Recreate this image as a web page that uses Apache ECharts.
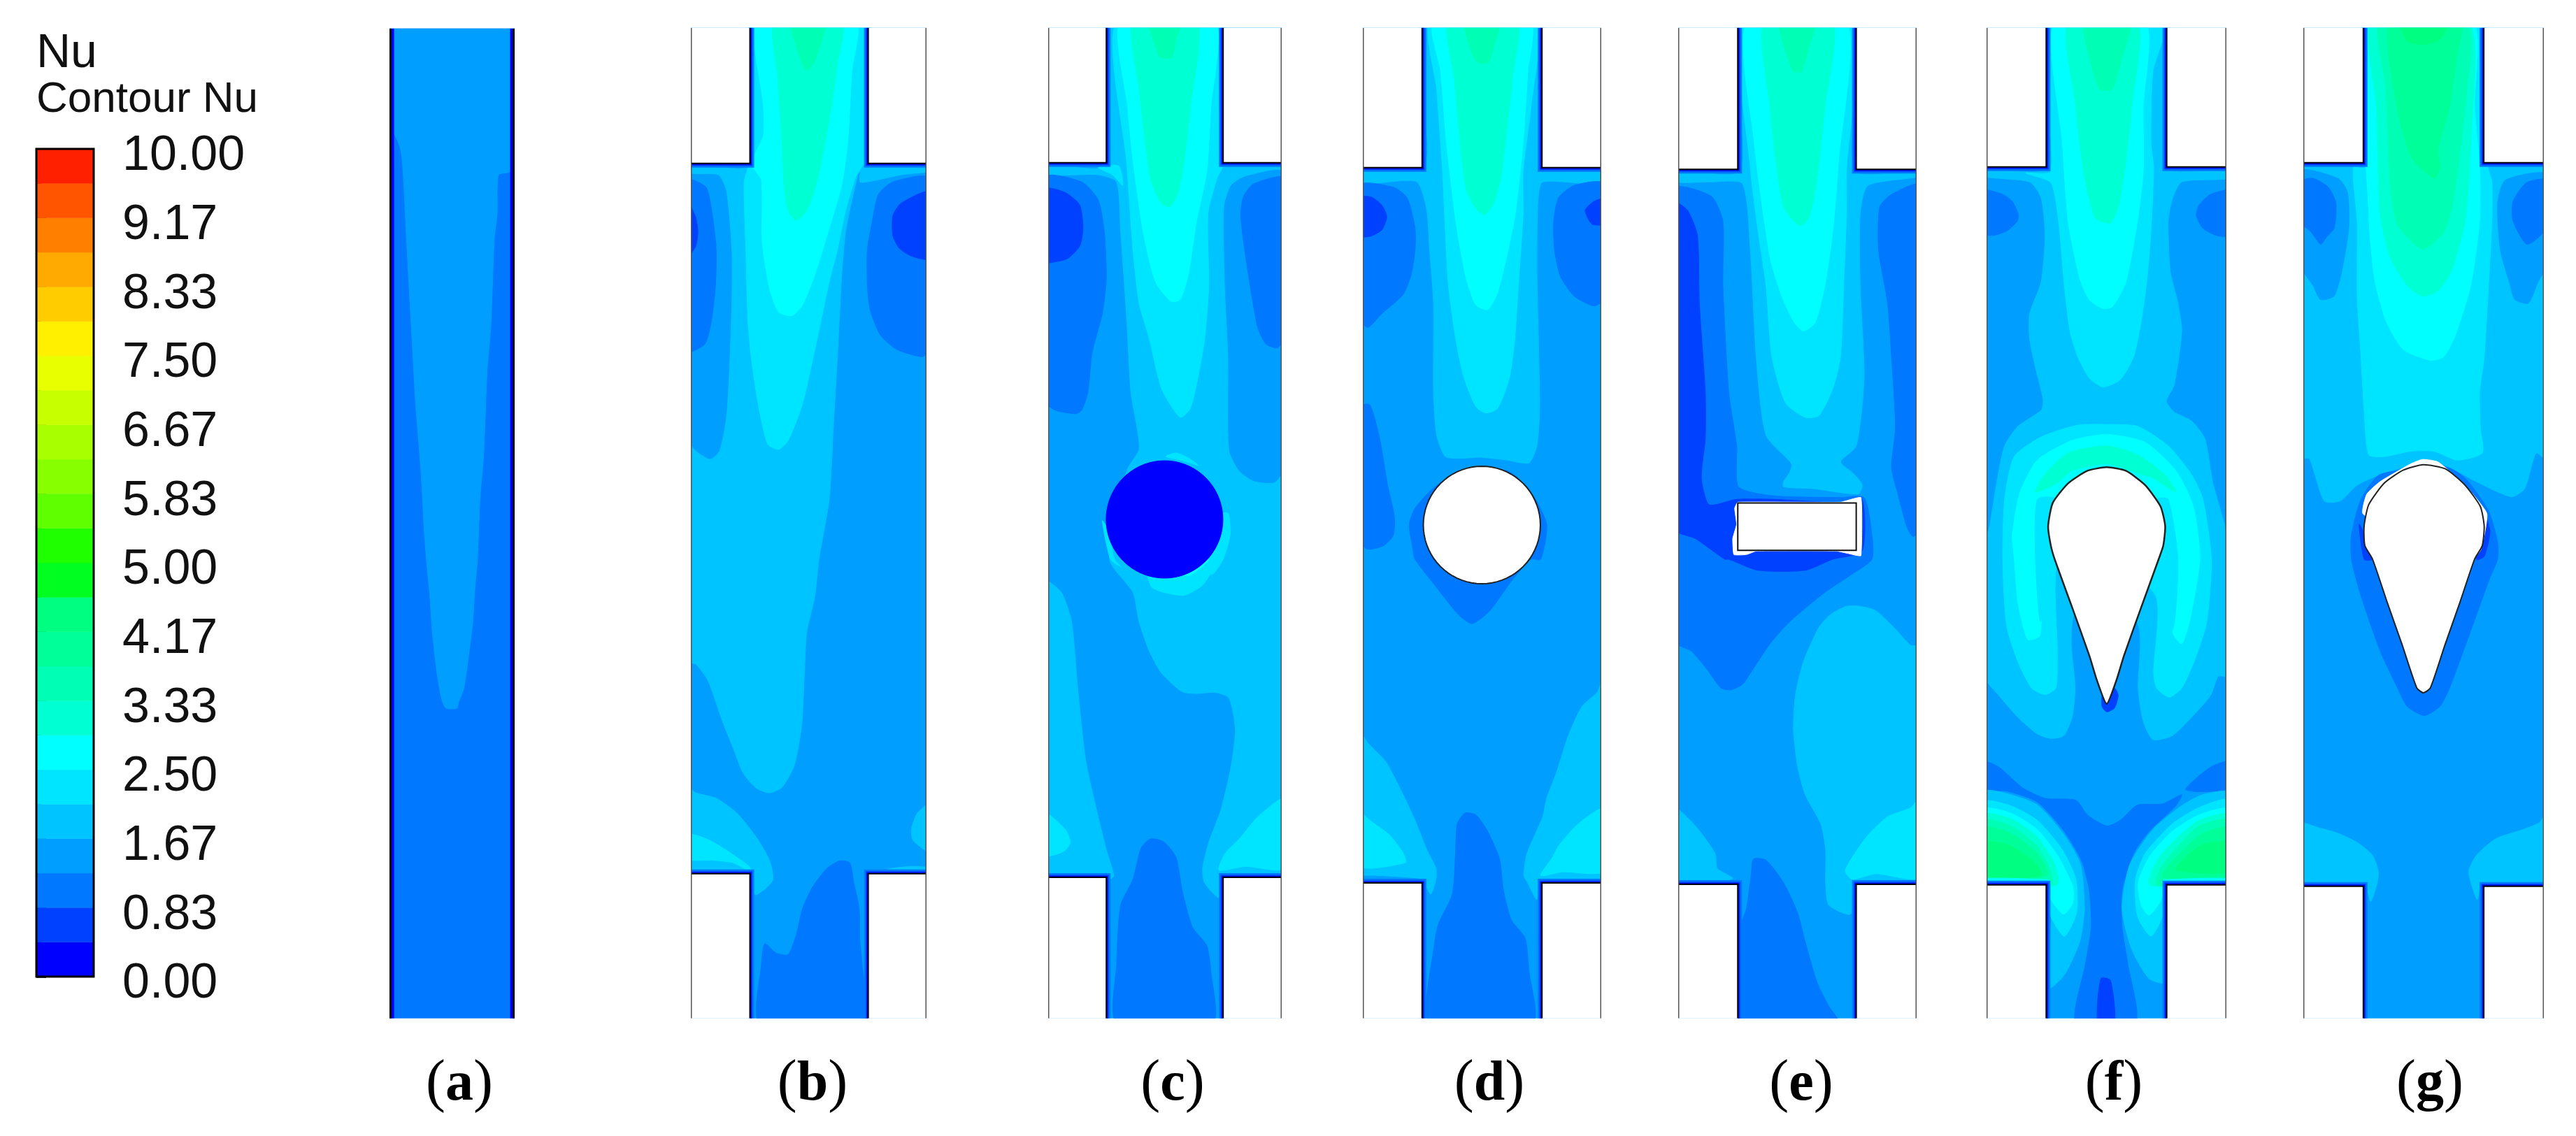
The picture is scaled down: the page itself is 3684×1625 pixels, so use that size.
<!DOCTYPE html>
<html><head><meta charset="utf-8">
<style>html,body{margin:0;padding:0;background:#fff}#c{width:3684px;height:1625px}</style>
<script src="https://cdn.jsdelivr.net/npm/echarts@6/dist/echarts.min.js"></script>
</head><body><div id="c"></div>
<script>
// Colour-bar tick labels and the 24 contour bands
const nuTickLabels=['0.00','0.83','1.67','2.50','3.33','4.17','5.00','5.83','6.67','7.50','8.33','9.17','10.00'];
const bandColors=['#0000ff','#0040ff','#0078ff','#009fff','#00c4ff','#00e5ff','#00ffff','#00ffd2','#00ffb4','#00ff99','#00ff80','#00ff20','#20ff00','#60ff00','#88ff00','#a8ff00','#c8ff00','#e8ff00','#fff000','#ffcc00','#ffaa00','#ff8000','#ff5500','#ff2000'];
const panelLabels=['a','b','c','d','e','f','g'];

// Contour regions: [band, [x,y, x,y, ...]].
// y below 2000 = reading in the upper half of the picture, y of 2000+ = reading in the lower half.
const contoursA=[
[3,[1098,70,1436,70,1432,290,1430,480,1397,490,1393,600,1385,670,1380,800,1375,920,1365,1040,1360,1160,1355,1280,1345,1400,1338,2000,1330,2090,1325,2170,1315,2250,1300,2350,1285,2390,1280,2405,1250,2405,1238,2380,1225,2310,1212,2200,1205,2100,1197,2020,1190,1500,1180,1320,1165,1130,1155,950,1145,770,1138,640,1130,480,1122,415,1105,375,1098,375]]
];
const contoursB=[
[4,[197,60,197,462,48,462,48,485,115,490,135,535,148,700,148,850,142,1040,135,1170,118,1265,95,1288,60,1265,40,1240,40,2280,60,2285,90,2330,125,2440,150,2510,175,2580,205,2620,238,2635,270,2620,300,2560,318,2450,325,2300,330,2200,350,2100,360,2000,385,1400,395,1200,405,1000,415,780,425,650,455,490,470,462,478,300,478,60]],
[4,[470,462,630,462,630,480,560,490,500,505,460,510]],
[2,[630,500,540,510,505,545,490,620,478,700,478,800,485,870,510,940,550,980,610,1000,630,985]],
[2,[40,505,85,525,100,600,110,700,108,800,98,900,82,965,40,985]],
[1,[630,538,560,570,540,605,540,660,555,695,585,718,630,725]],
[1,[40,565,60,610,65,650,60,690,40,720]],
[5,[197,60,197,440,190,462,178,510,182,700,187,900,195,1000,210,1120,235,1245,262,1260,285,1235,318,1140,335,1060,350,980,365,900,385,790,405,700,425,590,450,495,468,462,478,450,478,60]],
[6,[210,60,225,300,225,380,205,430,198,465,220,505,222,680,240,810,262,875,295,885,320,855,350,770,385,640,415,520,430,400,440,200,450,60]],
[7,[252,60,260,220,270,400,275,520,285,590,305,618,330,590,350,530,370,430,390,300,405,180,415,60]],
[8,[292,60,305,130,320,180,332,198,350,170,365,120,375,60]],
[4,[40,2620,60,2635,110,2650,160,2690,210,2760,240,2820,248,2870,230,2895,205,2912,197,2870,192,2860,40,2860]],
[5,[40,2748,90,2762,140,2795,190,2835,195,2850,150,2825,100,2818,40,2815]],
[4,[630,2665,600,2690,585,2735,590,2765,630,2795]],
[4,[540,2840,590,2835,630,2840,630,2860,480,2860]],
[2,[410,2820,435,2825,445,2880,458,2950,460,3040,465,3100,470,3260,215,3260,220,3100,228,3045,255,3070,285,3075,305,3020,320,2950,345,2890,380,2840]]
];
const contoursC=[
[4,[1065,60,1065,462,910,462,910,490,1040,490,1085,510,1095,650,1110,900,1120,1100,1135,1200,1140,1260,1110,1320,1068,2000,1125,2090,1140,2170,1165,2250,1195,2310,1245,2360,1280,2365,1325,2362,1358,2375,1370,2420,1375,2470,1365,2560,1340,2680,1310,2770,1295,2840,1300,2880,1335,2920,1345,2865,1495,2865,1495,60]],
[4,[910,2060,950,2090,975,2170,990,2350,1010,2550,1040,2700,1060,2790,1078,2860,1068,2870,910,2870]],
[3,[1495,485,1400,495,1365,520,1348,580,1350,800,1358,1000,1358,1200,1362,1270,1385,1320,1420,1348,1470,1352,1495,1310]],
[2,[1495,500,1420,515,1395,550,1388,600,1395,680,1415,830,1430,920,1450,965,1478,975,1495,945]],
[2,[910,498,1000,510,1040,560,1055,650,1060,780,1050,880,1025,990,1015,1100,1000,1150,985,1160,935,1150,910,1125]],
[1,[910,530,960,540,995,575,1003,640,995,690,965,725,930,735,910,735]],
[5,[1085,60,1110,460,1125,700,1140,850,1165,950,1195,1090,1240,1170,1265,1145,1285,1050,1300,950,1310,800,1308,600,1330,500,1345,462,1345,60]],
[5,[1040,470,1090,465,1100,520,1075,490]],
[6,[1095,60,1112,300,1125,450,1150,650,1180,790,1218,845,1240,840,1260,770,1280,620,1305,480,1315,300,1325,60]],
[7,[1125,60,1140,250,1155,400,1170,510,1195,570,1215,580,1235,540,1250,450,1265,300,1282,60]],
[8,[1165,60,1180,130,1190,160,1220,160,1230,110,1240,60]],
[5,[1205,1280,1230,1270,1262,1285,1285,1305,1270,1300,1240,1290]],
[5,[1342,1440,1358,1440,1362,1500,1345,1568,1320,2040,1300,2040]],
[5,[1050,1460,1062,1480,1080,1568,1095,2020,1070,1568]],
[5,[1160,2020,1170,2075,1200,2090,1250,2098,1295,2070,1320,2020,1250,2020]],
[6,[1220,2030,1260,2045,1300,2015,1310,2000,1250,2000]],
[5,[910,2690,960,2735,972,2770,955,2795,910,2805]],
[5,[1495,2650,1430,2700,1385,2760,1350,2800,1335,2845,1400,2835,1495,2840]],
[2,[1168,2760,1200,2768,1230,2810,1245,2900,1270,3000,1305,3050,1315,3120,1320,3260,1085,3260,1085,3100,1095,2940,1125,2870,1145,2785]]
];
const contoursD=[
[4,[210,60,210,470,45,474,45,518,100,512,190,510,215,590,222,700,232,850,232,1100,240,1220,262,1280,300,1285,350,1282,420,1290,475,1298,495,1250,502,1150,498,900,495,750,498,560,510,510,665,515,665,474,508,470,500,60]],
[2,[45,520,130,525,165,555,185,640,185,700,175,770,155,825,100,880,65,918,45,895]],
[1,[45,553,75,553,100,575,113,608,100,645,72,662,45,662]],
[2,[665,515,590,520,550,555,538,620,540,700,555,775,590,830,640,858,665,840]],
[1,[665,558,640,565,618,590,635,628,665,628]],
[5,[225,60,240,250,255,480,260,600,270,800,290,960,310,1060,340,1140,365,1158,395,1145,425,1060,438,960,448,800,460,600,460,480,480,300,490,60]],
[6,[232,60,250,200,265,400,290,630,315,780,340,855,370,868,395,820,420,710,440,600,460,400,472,200,478,60]],
[7,[270,60,285,220,300,400,315,530,340,585,362,602,385,570,403,500,420,350,435,200,445,60]],
[8,[312,60,330,150,345,175,372,175,385,130,400,60]],
[2,[45,1140,70,1135,95,1230,115,1360,132,1445,130,1500,105,1530,65,1540,45,1520]],
[2,[170,1470,185,1425,230,1370,300,1320,420,1320,480,1380,520,1470,505,1568,480,2000,430,2060,375,2140,330,2175,295,2150,235,2070,185,2000,178,1530]],
[4,[45,2470,65,2500,110,2550,150,2630,185,2710,215,2790,238,2840,238,2870,225,2910,205,2880,45,2885]],
[5,[45,2690,70,2710,120,2750,155,2800,160,2825,45,2835]],
[3,[45,2862,200,2870,205,2885,45,2885]],
[4,[665,2310,650,2360,610,2400,575,2480,545,2580,520,2650,510,2700,470,2800,462,2860,472,2880,495,2925,505,2880,665,2885]],
[5,[665,2678,600,2720,550,2780,535,2810,505,2860,560,2850,665,2848]],
[2,[312,2690,340,2695,370,2740,400,2815,410,2900,430,2980,465,3030,475,3120,485,3260,222,3260,235,3040,245,2990,280,2910,288,2800,292,2720]]
];
const contoursE=[
[2,[850,530,940,550,970,620,970,800,985,1100,1005,1250,1010,1365,1100,1390,1270,1395,1330,1395,1350,1500,1350,1568,1300,2040,1230,2090,1140,2170,1090,2230,1040,2310,1020,2340,990,2355,965,2350,930,2300,890,2250,850,2225]],
[1,[850,570,880,590,905,660,910,850,925,1100,925,1230,915,1340,935,1415,1005,1400,1100,1400,1270,1410,1325,1400,1325,1545,1250,2000,1180,2030,1060,2030,985,2000,975,1568,900,1510,850,1485]],
[2,[1470,520,1400,545,1370,580,1367,700,1390,850,1400,1000,1410,1200,1400,1310,1415,1380,1440,1480,1455,1505,1470,1485]],
[4,[1015,60,1015,478,850,480,850,510,940,510,1020,515,1040,700,1055,1000,1080,1220,1145,1300,1140,1325,1125,1350,1125,1365,1200,1370,1315,1385,1325,1360,1305,1330,1270,1295,1310,1250,1330,1060,1320,800,1320,600,1340,520,1470,495,1470,478,1305,478,1300,60]],
[5,[1022,60,1040,470,1060,650,1080,800,1095,1000,1130,1130,1180,1170,1215,1165,1250,1090,1270,1000,1278,800,1285,600,1285,480,1300,60]],
[6,[1032,60,1050,400,1090,720,1120,830,1150,900,1175,928,1205,905,1230,800,1250,650,1265,450,1285,60]],
[7,[1075,60,1090,300,1105,450,1125,580,1165,632,1190,610,1210,500,1230,300,1250,60]],
[8,[1115,60,1135,160,1150,200,1170,200,1190,130,1205,60]],
[4,[1470,2235,1450,2235,1410,2190,1360,2140,1320,2128,1285,2128,1245,2150,1215,2185,1175,2280,1155,2370,1150,2460,1160,2560,1180,2640,1220,2720,1232,2790,1232,2880,1240,2940,1295,2965,1305,2890,1470,2890]],
[5,[1470,2650,1450,2675,1390,2700,1340,2750,1300,2810,1282,2848,1300,2870,1360,2855,1470,2865]],
[4,[850,2680,900,2725,950,2800,955,2840,995,2868,850,2885]],
[2,[1048,2815,1080,2818,1125,2880,1160,2960,1180,3040,1210,3150,1240,3215,1265,3260,1015,3260,1015,3000,1030,2950,1042,2860]]
];
const contoursF=[
[4,[198,60,198,470,30,474,30,495,150,510,180,555,190,660,180,790,150,880,150,950,165,1030,185,1120,180,1150,120,1195,85,1250,65,1350,45,1480,30,1530,30,2315,70,2370,120,2430,170,2475,205,2487,238,2480,260,2430,268,2350,258,2230,265,2150,350,2000,435,2190,432,2350,445,2440,470,2490,520,2480,570,2430,620,2370,640,2318,670,2318,670,1540,625,1350,605,1230,570,1180,525,1155,505,1125,525,1080,545,930,535,850,515,760,510,620,520,560,545,510,670,500,670,474,506,470,500,60]],
[2,[30,535,80,545,105,565,120,600,118,620,90,648,55,660,30,655]],
[2,[670,535,620,545,590,575,583,605,600,640,635,660,670,660]],
[5,[205,60,205,480,140,485,205,512,225,620,240,800,255,930,275,1000,305,1060,340,1085,385,1065,420,1000,440,900,455,780,465,650,472,470,465,400,470,200,500,60]],
[6,[215,60,235,400,250,620,280,780,305,840,340,865,365,860,400,790,430,620,445,480,445,300,450,60]],
[7,[250,60,270,300,290,480,320,610,360,625,380,580,400,450,415,300,430,60]],
[8,[292,60,310,180,332,250,365,250,385,180,410,60]],
[5,[80,2000,90,2180,120,2280,155,2350,190,2368,218,2350,222,2260,225,2000,350,2000,478,2100,472,2310,480,2350,512,2375,545,2350,580,2270,610,2170,622,2000,600,1400,570,1330,510,1250,430,1195,350,1190,275,1192,180,1225,110,1280,85,1400]],
[6,[110,2000,120,2120,145,2218,175,2210,180,2170,175,2000,350,2000,525,2000,522,2200,545,2230,565,2170,592,2000,575,1420,530,1320,450,1240,350,1218,260,1235,170,1290,125,1380,105,1500]],
[7,[165,1380,190,1330,250,1270,350,1250,430,1275,500,1330,530,1380,470,1340,440,1330,350,1300,260,1320,220,1355]],
[5,[170,1400,165,1568,178,2170,205,2000,230,1568,220,1400]],
[5,[510,1400,535,1568,522,2190,480,2100,470,1568,480,1400]],
[2,[30,2550,70,2565,130,2620,190,2650,270,2655,300,2695,350,2725,385,2710,430,2668,495,2665,545,2640,530,2670,460,2740,420,2800,390,2900,390,3000,405,3100,425,3260,270,3260,295,3100,310,3000,305,2900,285,2820,240,2740,170,2660,90,2630,30,2625]],
[2,[670,2550,620,2565,555,2625,590,2632,670,2622]],
[1,[335,3140,360,3145,370,3260,327,3260]],
[4,[30,2632,90,2637,170,2668,240,2750,282,2830,292,2950,280,3040,240,3130,200,3165,197,2885,30,2885]],
[5,[30,2660,100,2670,170,2710,235,2790,270,2870,272,2960,240,3025,200,2960,197,2885,30,2885]],
[6,[30,2680,100,2690,170,2735,225,2810,262,2890,262,2935,238,2965,205,2925,197,2885,30,2885]],
[7,[30,2695,100,2705,170,2755,215,2830,222,2885,30,2885]],
[8,[30,2710,100,2725,170,2780,205,2850,205,2885,30,2885]],
[9,[30,2730,100,2745,170,2800,195,2860,30,2865]],
[10,[30,2770,90,2775,160,2820,180,2860,30,2860]],
[6,[30,2868,200,2872,200,2885,30,2885]],
[4,[670,2635,600,2640,545,2670,470,2735,410,2830,390,2950,415,3060,460,3140,505,3150,506,2885,670,2885]],
[5,[670,2655,590,2675,520,2720,450,2800,425,2870,430,2970,465,3025,495,2970,506,2885,670,2885]],
[6,[670,2680,590,2695,520,2740,460,2810,432,2880,440,2940,460,2968,490,2930,506,2885,670,2885]],
[7,[670,2695,590,2710,530,2760,480,2820,462,2885,670,2885]],
[8,[670,2710,590,2725,540,2775,490,2840,480,2885,670,2885]],
[9,[670,2730,600,2745,550,2790,505,2840,495,2865,670,2862]],
[10,[670,2770,600,2775,555,2810,530,2845,670,2850]],
[6,[500,2872,670,2868,670,2885,500,2885]],
[1,[340,2365,370,2350,380,2370,370,2405,350,2415,338,2400]]
];
const contoursG=[
[4,[1020,60,1020,456,850,458,850,1285,875,1285,890,1330,915,1405,955,1405,1000,1360,1060,1330,1120,1310,1170,1298,1230,1305,1300,1345,1400,1393,1435,1370,1465,1270,1495,1290,1495,458,1329,456,1325,60]],
[3,[850,480,950,500,975,540,978,640,960,760,940,830,905,840,885,800,850,740]],
[3,[1495,490,1385,505,1365,570,1372,700,1395,790,1410,840,1445,850,1470,790,1495,740]],
[2,[850,510,885,500,925,525,945,570,940,640,920,665,905,685,880,650,850,620]],
[2,[1495,505,1440,512,1405,565,1405,620,1442,685,1495,635]],
[5,[1020,60,1020,470,990,470,1000,620,1000,830,1010,1000,1018,1150,1030,1275,1070,1280,1140,1265,1200,1265,1260,1290,1325,1270,1320,1200,1318,1100,1330,1000,1350,620,1350,510,1340,470,1325,60]],
[6,[1030,60,1030,600,1045,780,1075,900,1120,980,1190,1010,1225,1000,1255,940,1295,800,1318,620,1318,470,1305,300,1300,60]],
[7,[1038,60,1050,300,1060,600,1085,720,1130,800,1170,830,1210,815,1245,760,1280,620,1295,400,1290,60]],
[8,[1060,60,1075,250,1085,500,1105,630,1170,698,1225,650,1250,560,1280,300,1285,60]],
[9,[1085,60,1100,280,1140,440,1200,500,1215,470,1210,420,1240,300,1260,150,1270,60]],
[10,[1112,60,1130,115,1175,125,1215,110,1240,60]],
[4,[850,2718,900,2730,950,2745,1000,2770,1040,2805,1055,2850,1052,2880,1035,2930,1020,2890,850,2870]],
[4,[1495,2680,1475,2715,1430,2735,1360,2760,1310,2805,1290,2850,1312,2925,1325,2880,1495,2875]],
[2,[1060,1330,1010,1400,985,1500,985,2000,1010,2100,1060,2250,1105,2350,1130,2400,1175,2425,1215,2400,1240,2350,1300,2180,1345,2050,1365,2000,1365,1520,1340,1430,1280,1340,1230,1310]],
[1,[1330,1440,1345,1490,1330,1560,1310,1568]],
[1,[1005,1470,1018,1568,1040,2000,1020,1500]]
];
// Solid obstacles
const obstacleF=[350,1310,400,1320,450,1360,490,1420,502,1475,497,1530,485,2000,440,2130,395,2262,375,2330,350,2393,325,2330,305,2262,260,2130,215,2000,205,1530,198,1475,210,1410,250,1355,300,1320];
const obstacleG=[1172,1303,1230,1315,1280,1360,1320,1420,1330,1475,1325,1530,1305,2000,1267,2117,1228,2233,1190,2350,1172,2363,1155,2350,1117,2233,1078,2117,1040,2000,1020,1530,1018,1475,1030,1415,1070,1355,1120,1318];
const gapG=[1015,1440,1025,1385,1060,1350,1140,1300,1170,1288,1210,1295,1280,1360,1337,1440,1322,1540,1300,1568,1172,1568];
const obstacleE=[1008,1410,1310,1410,1310,1543,1008,1543];
const gapE=[1008,1408,1000,1425,1005,1470,995,1510,998,1555,1030,1555,1055,1545,1260,1545,1290,1552,1322,1558,1322,1395,1270,1408];

// Channel outline per panel: x left, x right, channel left, channel right, y top, upper shoulder, lower shoulder, y bottom
const channelA=[1092,1442,1092,1442,80,null,null,3248];
const channelB=[48,622,192,480,78,458,2855,3248];
const channelC=[918,1488,1060,1345,78,456,2865,3248];
const channelD=[52,659,203,508,78,470,2880,3248];
const channelE=[856,1464,1008,1310,78,475,2884,3248];
const channelF=[38,661,193,506,78,468,2885,3248];
const channelG=[860,1485,1016,1329,78,456,2889,3248];
const baseBand=[2,3,3,3,3,3,3];

// Page layout only
const panelPx=[[557,179],[988,337],[1499,334],[1949,341],[2400,341],[2841,343],[3294,344]];
const labelCx=[652,1157,1672,2125,2571,3018,3470];
const labelCy=1547;
const circleC={cx:1202,cy:743,rx:142.5,ry:84};
const circleD={cx:355,cy:751,rx:149,ry:84};

const yPx=v=>v<2000?v*800/1568:800+(v-2000)*825/1568;
function pairs(flat){const o=[];for(let i=0;i<flat.length;i+=2)o.push([flat[i],yPx(flat[i+1])]);return o;}
function ring(c){const o=[];for(let i=0;i<72;i++){const a=i/72*2*Math.PI;o.push([c.cx+c.rx*Math.cos(a),c.cy+c.ry*Math.sin(a)]);}return o;}

function buildItems(i,contours,ch,extra){
  const [xl,xr,cl,cr,t0,s1r,s2r,b0]=ch;
  const top=yPx(t0),bot=yPx(b0);
  const items=[{t:'fill',c:bandColors[baseBand[i]],pts:[[xl-10,top-5],[xr+10,top-5],[xr+10,bot+5],[xl-10,bot+5]],smooth:0}];
  contours.forEach(([lv,flat])=>items.push({t:'fill',c:bandColors[lv],pts:pairs(flat),smooth:0.22}));
  if(s1r===null){
    const a=[[xl,top],[xl,bot]],b=[[xr,top],[xr,bot]];
    [[13,bandColors[0]],[6,'#000']].forEach(([w,c])=>{items.push({t:'line',c,w,pts:a});items.push({t:'line',c,w,pts:b});});
    return items;
  }
  const s1=yPx(s1r),s2=yPx(s2r);
  const walls=[[[xl,s1],[cl,s1],[cl,top]],[[xr,s1],[cr,s1],[cr,top]],[[xl,s2],[cl,s2],[cl,bot]],[[xr,s2],[cr,s2],[cr,bot]]];
  [[12,bandColors[2]],[7,bandColors[1]],[4,bandColors[0]]].forEach(([w,c])=>walls.forEach(p=>items.push({t:'line',c,w,pts:p})));
  [[[xl,top],[cl,top],[cl,s1],[xl,s1]],[[cr,top],[xr,top],[xr,s1],[cr,s1]],[[xl,s2],[cl,s2],[cl,bot],[xl,bot]],[[cr,s2],[xr,s2],[xr,bot],[cr,bot]]]
    .forEach(p=>items.push({t:'fill',c:'#fff',pts:p,smooth:0}));
  extra(items);
  walls.forEach(p=>items.push({t:'line',c:'#000',w:2,pts:p}));
  [[[xl,top],[xl,bot]],[[xr,top],[xr,bot]]].forEach(p=>items.push({t:'line',c:'#555',w:3,pts:p}));
  return items;
}
const scene=[
 buildItems(0,contoursA,channelA,()=>{}),
 buildItems(1,contoursB,channelB,()=>{}),
 buildItems(2,contoursC,channelC,it=>{it.push({t:'fill',c:bandColors[0],pts:ring(circleC),smooth:0});}),
 buildItems(3,contoursD,channelD,it=>{it.push({t:'fill',c:'#fff',stroke:'#222',w:2,pts:ring(circleD),smooth:0});}),
 buildItems(4,contoursE,channelE,it=>{it.push({t:'fill',c:'#fff',pts:pairs(gapE),smooth:0.1});it.push({t:'fill',c:'#fff',stroke:'#111',w:2,pts:pairs(obstacleE),smooth:0});}),
 buildItems(5,contoursF,channelF,it=>{it.push({t:'fill',c:'#fff',stroke:'#222',w:2.5,pts:pairs(obstacleF),smooth:0.2});}),
 buildItems(6,contoursG,channelG,it=>{it.push({t:'fill',c:'#fff',pts:pairs(gapG),smooth:0.15});it.push({t:'fill',c:'#fff',stroke:'#222',w:2,pts:pairs(obstacleG),smooth:0.2});})
];
const channels=[channelA,channelB,channelC,channelD,channelE,channelF,channelG];

const grids=[],xAxes=[],yAxes=[],series=[],titles=[];
scene.forEach((items,i)=>{
  const ch=channels[i],top=yPx(ch[4]),bot=yPx(ch[7]);
  grids.push({left:panelPx[i][0],width:panelPx[i][1],top:top,height:bot-top,containLabel:false});
  xAxes.push({gridIndex:i,type:'value',min:ch[0],max:ch[1],show:false});
  yAxes.push({gridIndex:i,type:'value',inverse:true,min:top,max:bot,show:false});
  series.push({type:'custom',xAxisIndex:i,yAxisIndex:i,silent:true,clip:true,animation:false,
    data:items.map((_,k)=>[k]),encode:{x:-1,y:-1},
    renderItem:(p,api)=>{
      const it=items[api.value(0)];
      const points=it.pts.map(q=>api.coord(q));
      if(it.t==='line')return{type:'polyline',shape:{points},style:{fill:null,stroke:it.c,lineWidth:it.w,lineJoin:'miter'}};
      return{type:'polygon',shape:{points,smooth:it.smooth||0},style:{fill:it.c,stroke:it.stroke||it.c,lineWidth:it.w||1}};
    }});
  titles.push({text:'{r|(}{b|'+panelLabels[i]+'}{r|)}',left:labelCx[i],top:labelCy,textAlign:'center',textVerticalAlign:'middle',
    textStyle:{rich:{r:{fontFamily:'Liberation Serif',fontWeight:'normal',fontSize:84,color:'#000'},b:{fontFamily:'Liberation Serif',fontWeight:'bold',fontSize:80,color:'#000'}}}});
});
titles.push({text:'Nu',left:47,top:38,textStyle:{fontFamily:'Liberation Sans',fontSize:68,fontWeight:'normal',color:'#111'}});
titles.push({text:'Contour Nu',left:47,top:107,textStyle:{fontFamily:'Liberation Sans',fontSize:62,fontWeight:'normal',color:'#111'}});

// Colour bar
const lg=scene.length;
grids.push({left:52,top:213,width:82,height:1184,show:true,borderColor:'#000',borderWidth:3,backgroundColor:'transparent',z:5});
xAxes.push({gridIndex:lg,type:'value',min:0,max:1,show:false});
yAxes.push({gridIndex:lg,type:'value',position:'right',min:0,max:12,interval:1,
  axisLine:{show:false},splitLine:{show:false},
  axisTick:{show:true,length:14,lineStyle:{color:'#000',width:2.5}},
  minorTick:{show:true,splitNumber:2,length:7,lineStyle:{color:'#000',width:2.5}},
  axisLabel:{show:true,margin:41,color:'#111',fontFamily:'Liberation Sans',fontSize:70,align:'left',verticalAlign:'top',lineHeight:22,hideOverlap:false,showMinLabel:true,showMaxLabel:true,formatter:v=>nuTickLabels[Math.round(v)]}});
series.push({type:'custom',xAxisIndex:lg,yAxisIndex:lg,silent:true,animation:false,clip:true,
  data:bandColors.map((c,k)=>[k]),encode:{x:-1,y:-1},
  renderItem:(p,api)=>{
    const k=api.value(0);
    const a=api.coord([0,(k+1)/2]),b=api.coord([1,k/2]);
    return{type:'rect',shape:{x:a[0],y:a[1],width:b[0]-a[0],height:b[1]-a[1]},style:{fill:bandColors[k],stroke:bandColors[k],lineWidth:.5}};
  }});

const chart=echarts.init(document.getElementById('c'),null,{renderer:'canvas'});
chart.setOption({animation:false,backgroundColor:'#fff',title:titles,grid:grids,xAxis:xAxes,yAxis:yAxes,series});
</script></body></html>
